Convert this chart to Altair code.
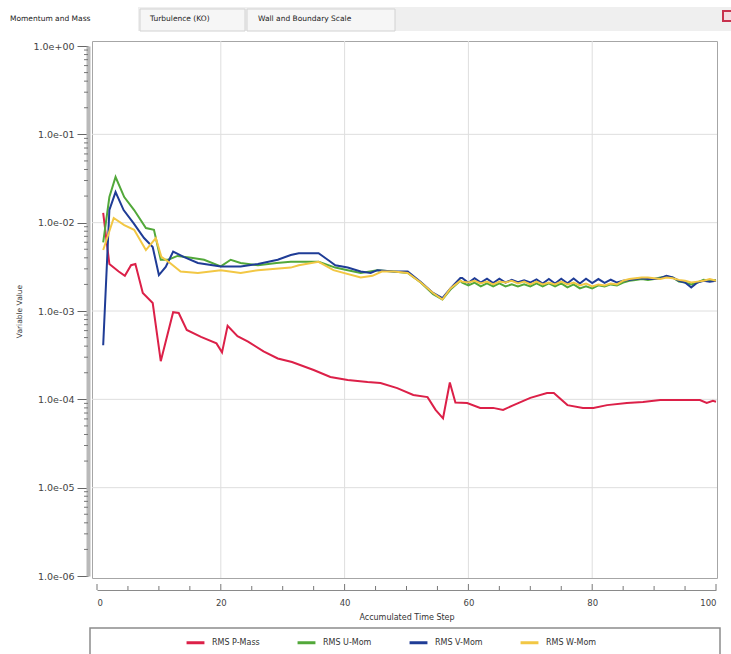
import altair as alt
import pandas as pd

# ---------------- data ----------------
series_names = ["RMS P-Mass", "RMS U-Mom", "RMS V-Mom", "RMS W-Mom"]
series_colors = ["#dc2048", "#52a83a", "#1f3c96", "#f2c744"]

p_steps = [1, 2, 3.5, 4.5, 5.5, 6.2, 7.4, 9, 10.3, 12.3, 13.2, 14.5, 16.8, 19.3, 20.2, 21.1,
           22.7, 24.4, 26.9, 29.2, 31.5, 35, 37.7, 40.5, 43.7, 45.8, 48.5, 51.1, 53.4, 54.7,
           55.9, 57, 57.9, 59.8, 61.9, 64, 65.6, 67.3, 70, 72.7, 73.8, 76, 78.5, 80.2, 82.4,
           85.6, 88.2, 91, 94.2, 97.4, 98.5, 99.5, 100]
p_vals = [0.0129, 0.0034, 0.0028, 0.0025, 0.0033, 0.0034, 0.0016, 0.00123, 0.00027, 0.00097,
          0.00095, 0.00061, 0.00051, 0.00043, 0.00034, 0.00068, 0.00052, 0.00045, 0.00035,
          0.00029, 0.000265, 0.000215, 0.000179, 0.000166, 0.000157, 0.000153, 0.000134,
          0.000112, 0.000106, 0.000076, 0.000061, 0.000155, 0.000092, 0.000091, 0.00008,
          0.00008, 0.000076, 0.000086, 0.000104, 0.000118, 0.000118, 0.000086, 0.00008,
          0.00008, 0.000086, 0.000091, 0.000093, 0.000098, 0.000098, 0.000098, 0.000091,
          0.000096, 0.000094]

u_steps = [1, 2, 3, 4.4, 6, 7.9, 9.2, 10.3, 11.5, 13, 15.2, 17.3, 20, 21.6, 23.2, 26, 29,
           31.3, 35.8, 38.5, 40.5, 42.6, 45.3, 47.9, 50.2, 52.3, 54.3, 55.8, 57.1, 58.7,
           59, 60, 61, 62, 63, 64, 65, 66, 67, 68, 69, 70, 71, 72, 73, 74, 75, 76, 77, 78,
           79, 80, 81, 82, 83, 84, 85, 86, 87, 88, 89, 90, 91, 92, 93, 94, 95, 96, 97, 98,
           99, 100]
u_vals = [0.0060, 0.0195, 0.0329, 0.0195, 0.0139, 0.0087, 0.0083, 0.0038, 0.0038, 0.0042,
          0.0040, 0.0038, 0.0032, 0.0038, 0.0035, 0.0033, 0.0035, 0.0036, 0.0036, 0.0031,
          0.0029, 0.0027, 0.0029, 0.0028, 0.0027, 0.0021, 0.00155, 0.00135, 0.00175, 0.0022,
          0.0021, 0.00195, 0.0021, 0.0019, 0.00205, 0.0019, 0.00205, 0.0019, 0.002, 0.0019,
          0.002, 0.0019, 0.00205, 0.0019, 0.00205, 0.0019, 0.00205, 0.00185, 0.002, 0.0018,
          0.0019, 0.0018, 0.00195, 0.0019, 0.002, 0.00195, 0.0021, 0.0022, 0.00225, 0.0023,
          0.00225, 0.0023, 0.0024, 0.00245, 0.0024, 0.00215, 0.0021, 0.002, 0.0021, 0.00225,
          0.0022, 0.00225]

v_steps = [1, 2, 3, 4.3, 5.9, 7.6, 9, 10, 11.1, 12.3, 14, 16.3, 20, 23.2, 26, 29.2, 31.3,
           32.6, 35.8, 37.5, 38.5, 40.5, 42.6, 44.2, 45.3, 47.9, 50.2, 52.3, 54.3, 55.8, 57.1,
           58.7, 59, 60, 61, 62, 63, 64, 65, 66, 67, 68, 69, 70, 71, 72, 73, 74, 75, 76, 77,
           78, 79, 80, 81, 82, 83, 84, 85, 86, 87, 88, 89, 90, 91, 92, 93, 94, 95, 96, 97, 98,
           99, 100]
v_vals = [0.00041, 0.0139, 0.0222, 0.0139, 0.0099, 0.0067, 0.0053, 0.00255, 0.00315, 0.0047,
          0.0041, 0.0035, 0.0032, 0.0032, 0.0034, 0.0038, 0.0043, 0.0045, 0.0045, 0.0037,
          0.0033, 0.0031, 0.0028, 0.0027, 0.0029, 0.0028, 0.0028, 0.00213, 0.0016, 0.0014,
          0.0018, 0.00236, 0.00236, 0.00208, 0.00235, 0.0021, 0.00232, 0.00207, 0.00232,
          0.0021, 0.00225, 0.00212, 0.00222, 0.0021, 0.00228, 0.00205, 0.0023, 0.00205,
          0.00232, 0.00206, 0.00233, 0.00205, 0.00232, 0.00207, 0.0023, 0.00208, 0.00226,
          0.0021, 0.0022, 0.00225, 0.0023, 0.00235, 0.0023, 0.0023, 0.00235, 0.0025, 0.0024,
          0.0022, 0.0021, 0.00185, 0.0021, 0.0022, 0.00215, 0.0022]

w_steps = [1, 2.7, 4.4, 6, 7.9, 9.5, 10.4, 11.8, 13.5, 16.3, 20, 23.2, 26, 31.3, 32.6, 35.8,
           38.2, 42.6, 44.5, 46, 48, 50.2, 52.3, 54.3, 55.8, 57.1, 58.7, 59, 60, 61, 62, 63,
           64, 65, 66, 67, 68, 69, 70, 71, 72, 73, 74, 75, 76, 77, 78, 79, 80, 81, 82, 83, 84,
           85, 86, 87, 88, 89, 90, 91, 92, 93, 94, 95, 96, 97, 98, 99, 100]
w_vals = [0.0049, 0.0113, 0.0094, 0.0083, 0.0049, 0.0067, 0.0041, 0.0035, 0.0028, 0.0027,
          0.0029, 0.0027, 0.0029, 0.0031, 0.0033, 0.0036, 0.0029, 0.0024, 0.0025, 0.0028,
          0.0028, 0.0027, 0.0021, 0.0016, 0.00135, 0.0018, 0.0022, 0.00215, 0.0021, 0.0022,
          0.00205, 0.00215, 0.002, 0.00215, 0.0021, 0.0022, 0.00205, 0.00215, 0.002, 0.00215,
          0.002, 0.0021, 0.002, 0.00215, 0.002, 0.0021, 0.00195, 0.00205, 0.0019, 0.002,
          0.00195, 0.00205, 0.002, 0.0022, 0.0023, 0.00235, 0.0024, 0.0024, 0.00235, 0.0023,
          0.0024, 0.00235, 0.00225, 0.0022, 0.0021, 0.00215, 0.0022, 0.0023, 0.0022]

x_tick_values = [0, 20, 40, 60, 80, 100]
x_minor_values = [5, 10, 15, 25, 30, 35, 45, 50, 55, 65, 70, 75, 85, 90, 95]
x_grid_values = [20, 40, 60, 80]
y_tick_values = [1e-6, 1e-5, 1e-4, 1e-3, 1e-2, 1e-1, 1.0]
y_grid_values = [1e-5, 1e-4, 1e-3, 1e-2, 1e-1]
y_minor_mult = [2, 3, 4, 5, 6, 7, 8, 9]
tab_labels = ["Momentum and Mass", "Turbulence (KO)", "Wall and Boundary Scale"]

# ---------------- tables ----------------
rows = []
for name, st, vs in zip(series_names, [p_steps, u_steps, v_steps, w_steps],
                        [p_vals, u_vals, v_vals, w_vals]):
    for s, v in zip(st, vs):
        rows.append({"step": s, "value": v, "series": name})
df = pd.DataFrame(rows)

y_minor = [m * d for d in y_tick_values[:-1] for m in y_minor_mult]

FONT = "DejaVu Sans"
PW, PH = 625, 537          # frame (plot area) size
XOFF = 12                  # x axis ruler below frame

xs = alt.Scale(domain=[0, 100], range=[5, 624], nice=False, zero=False)
ys = alt.Scale(type="log", domain=[1e-6, 1.0], range=[535, 5], nice=False)

one = pd.DataFrame({"k": [0]})

y_axis = alt.Axis(
    values=y_tick_values, orient="left", offset=4, domainWidth=4, domainColor="#b9b9b9",
    tickSize=11, tickColor="#666666", tickWidth=1, labelPadding=3, labelFontSize=9.5,
    labelColor="#444444", labelFont=FONT, grid=False,
    labelExpr="'1.0e' + (datum.value >= 1 ? '+00' : '-0' + round(-log(datum.value) / LN10))",
    title="Variable Value", titleFont=FONT, titleFontSize=7.5, titleFontWeight="normal",
    titleColor="#333333", titlePadding=9)

x_axis = alt.Axis(
    values=x_tick_values, orient="bottom", offset=XOFF, domainColor="#8a8a8a", domainWidth=1,
    ticks=False, labelPadding=8, labelFontSize=8.5, labelColor="#444444", labelFont=FONT,
    format="d", grid=False, title="Accumulated Time Step", titleFont=FONT, titleFontSize=8,
    titleFontWeight="normal", titleColor="#333333", titlePadding=7)

X = lambda f: alt.X(f, scale=xs, axis=x_axis)
Y = lambda f: alt.Y(f, scale=ys, axis=y_axis)

hgrid = alt.Chart(pd.DataFrame({"value": y_grid_values})).mark_rule(
    color="#dedede", strokeWidth=1).encode(
    y=Y("value:Q"), x=alt.value(0), x2=alt.value(PW))

vgrid = alt.Chart(pd.DataFrame({"step": x_grid_values})).mark_rule(
    color="#dedede", strokeWidth=1).encode(
    x=X("step:Q"), y=alt.value(0), y2=alt.value(PH))

lines = alt.Chart(df).mark_line(strokeWidth=2).encode(
    x=X("step:Q"),
    y=Y("value:Q"),
    color=alt.Color("series:N", scale=alt.Scale(domain=series_names, range=series_colors),
                    legend=alt.Legend(
                        title=None, orient="none", legendX=93, legendY=591,
                        direction="horizontal", columns=4, symbolType="stroke",
                        symbolStrokeWidth=3, symbolSize=320, labelFont=FONT,
                        labelFontSize=8, labelColor="#333333", labelOffset=6,
                        columnPadding=31)),
    order=alt.Order("step:Q"))

yminor = alt.Chart(pd.DataFrame({"value": y_minor})).mark_rule(
    color="#777777", strokeWidth=1).encode(
    y=Y("value:Q"), x=alt.value(-8), x2=alt.value(-4))

xmajor = alt.Chart(pd.DataFrame({"step": x_tick_values})).mark_rule(
    color="#777777", strokeWidth=1).encode(
    x=X("step:Q"), y=alt.value(PH + XOFF - 6), y2=alt.value(PH + XOFF))

xminor = alt.Chart(pd.DataFrame({"step": x_minor_values})).mark_rule(
    color="#777777", strokeWidth=1).encode(
    x=X("step:Q"), y=alt.value(PH + XOFF - 4), y2=alt.value(PH + XOFF))

legend_box = alt.Chart(one).mark_rect(
    fill="white", stroke="#8c8c8c", strokeWidth=1.5).encode(
    x=alt.value(-2), x2=alt.value(628), y=alt.value(587), y2=alt.value(625))

# tab strip above the chart
tab_band = alt.Chart(one).mark_rect(fill="#efefef").encode(
    x=alt.value(-92), x2=alt.value(639), y=alt.value(-34), y2=alt.value(-10))
tab_sel = alt.Chart(one).mark_rect(fill="#ffffff").encode(
    x=alt.value(-92), x2=alt.value(46), y=alt.value(-34), y2=alt.value(-7))
tab2 = alt.Chart(one).mark_rect(fill="#f6f6f6", stroke="#d2d2d2", strokeWidth=1).encode(
    x=alt.value(48), x2=alt.value(153), y=alt.value(-32), y2=alt.value(-10))
tab3 = alt.Chart(one).mark_rect(fill="#f6f6f6", stroke="#d2d2d2", strokeWidth=1).encode(
    x=alt.value(155), x2=alt.value(303), y=alt.value(-32), y2=alt.value(-10))
tab_text = alt.Chart(pd.DataFrame({"t": tab_labels, "px": [-82, 58, 166]})).mark_text(
    font=FONT, fontSize=7.5, color="#222222", align="left", baseline="middle").encode(
    text="t:N", x=alt.X("px:Q", scale=None), y=alt.value(-22))
icon = alt.Chart(one).mark_rect(fill="#f4dde2", stroke="#c8324e", strokeWidth=2).encode(
    x=alt.value(631), x2=alt.value(642), y=alt.value(-30), y2=alt.value(-20))

chart = alt.layer(
    legend_box, hgrid, vgrid, lines, yminor, xmajor, xminor,
    tab_band, tab_sel, tab2, tab3, tab_text, icon
).properties(
    width=PW, height=PH,
    autosize=alt.AutoSizeParams(type="none"),
    padding={"left": 92, "top": 41, "right": 14, "bottom": 76},
    background="white",
).configure_view(stroke="#a6a6a6", strokeWidth=1)

chart.save("out.html", embed_options={"renderer": "svg", "actions": False})
